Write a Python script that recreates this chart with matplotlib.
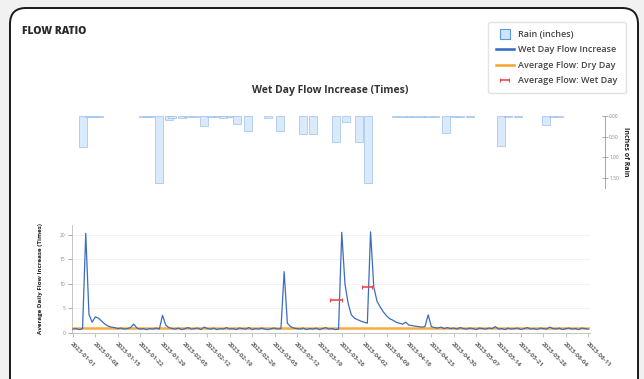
import matplotlib
matplotlib.use("Agg")
import matplotlib.pyplot as plt
from matplotlib.patches import FancyBboxPatch
from matplotlib.lines import Line2D

plt.rcParams['font.family'] = ['Open Sans', 'DejaVu Sans']

# daily flow increase (times), one value per day
flow_increase = [
    0.8, 0.9, 0.7, 0.9, 20.3, 3.8, 2.2, 3.3, 3.0, 2.4,
    1.8, 1.4, 1.2, 1.1, 0.9, 1.0, 0.8, 0.9, 1.1, 1.8,
    1.0, 0.8, 0.9, 0.7, 0.9, 0.8, 1.0, 0.8, 3.6, 1.6,
    1.1, 0.9, 0.8, 1.0, 0.7, 0.9, 1.1, 0.8, 0.9, 1.0,
    0.7, 1.2, 0.9, 0.8, 1.0, 0.7, 0.9, 0.8, 1.1, 0.8,
    0.9, 0.7, 1.0, 0.9, 0.8, 1.1, 0.7, 0.9, 0.8, 1.0,
    0.8, 0.7, 0.9, 1.0, 0.8, 0.9, 12.5, 2.0, 1.3, 1.0,
    0.9, 0.8, 1.0, 0.7, 0.9, 0.8, 1.0, 0.7, 0.9, 1.1,
    0.8, 0.9, 0.7, 0.8, 20.5, 10.0, 6.0, 3.7, 3.0, 2.7,
    2.4, 2.2, 2.0, 20.6, 9.4, 6.5, 5.3, 4.3, 3.5, 2.9,
    2.6, 2.2, 2.0, 1.8, 2.2, 1.6, 1.5, 1.4, 1.3, 1.2,
    1.3, 3.7, 1.3, 1.1, 1.0, 1.2, 0.9, 1.1, 0.9, 1.0,
    0.8, 1.1, 0.9, 0.8, 1.0, 0.9, 0.7, 1.0, 0.9, 0.8,
    1.0, 0.9, 1.3, 0.8, 0.9, 0.7, 1.0, 0.8, 0.9, 1.0,
    0.7, 0.9, 1.1, 0.8, 0.9, 0.7, 1.0, 0.9, 0.8, 1.2,
    0.9, 0.8, 1.0, 0.7, 0.9, 1.0, 0.8, 0.9, 0.7, 1.0,
    0.9, 0.8,
]
days = list(range(len(flow_increase)))

dry_day_avg = 1.0

# average flow on wet days
wet_days = [82.2, 91.9]
wet_vals = [6.7, 9.4]
wet_halfwidth = [1.9, 1.6]

# rain (inches)
rain_days = [3, 5, 6, 7, 8, 22, 23, 24, 27, 30, 31, 34, 36, 38, 41, 43, 45, 47, 49,
             51.4, 54.6, 61, 64.6, 71.8, 75, 82.3, 85.2, 89.4, 92.2,
             101, 103, 105, 107, 109, 111, 113, 116.6, 119, 121, 124,
             133.7, 136, 139, 147.8, 150, 152]
rain_in = [0.76, 0.03, 0.02, 0.03, 0.02, 0.03, 0.02, 0.03, 1.61, 0.10, 0.05, 0.04, 0.03,
           0.03, 0.25, 0.03, 0.02, 0.04, 0.02,
           0.20, 0.37, 0.05, 0.37, 0.44, 0.44, 0.63, 0.15, 0.63, 1.61,
           0.02, 0.03, 0.02, 0.03, 0.02, 0.03, 0.02, 0.41, 0.03, 0.02, 0.03,
           0.73, 0.03, 0.02, 0.22, 0.03, 0.02]

tick_days = list(range(0, 162, 7))
tick_labels = ['2023-01-01', '2023-01-08', '2023-01-15', '2023-01-22', '2023-01-29',
               '2023-02-05', '2023-02-12', '2023-02-19', '2023-02-26', '2023-03-05',
               '2023-03-12', '2023-03-19', '2023-03-26', '2023-04-02', '2023-04-09',
               '2023-04-16', '2023-04-23', '2023-04-30', '2023-05-07', '2023-05-14',
               '2023-05-21', '2023-05-28', '2023-06-04', '2023-06-11']

W, H = 644, 379
fig = plt.figure(figsize=(W / 100, H / 100), dpi=100)
fig.patch.set_facecolor('#f1f1f1')

# card background
card = FancyBboxPatch((0.10, -0.3), 6.28, 3.71 + 0.3, boxstyle="round,pad=0,rounding_size=0.16",
                      transform=fig.dpi_scale_trans, facecolor='white', edgecolor='#1a1a1a',
                      linewidth=1.4, zorder=-5)
fig.patches.append(card)

fig.text(22 / W, 1 - 31 / H, 'FLOW RATIO', fontsize=7.5, fontweight='heavy', color='#2a2a2a',
         va='center', ha='left')
fig.text(330 / W, 1 - 91 / H, 'Wet Day Flow Increase (Times)', fontsize=7.5, fontweight='bold',
         color='#333333', va='center', ha='center')

def px_axes(left, right, top, bottom):
    return fig.add_axes([left / W, 1 - bottom / H, (right - left) / W, (bottom - top) / H])

# rain axis (inverted, on top)
x0 = -0.3
px_per_day = 3.2
ax_r = px_axes(72, 605, 116, 188)
ax_r.set_facecolor('none')
ax_r.bar(rain_days, rain_in, width=2.5, color='#d8eafc', edgecolor='#9cc0ea', linewidth=0.5)
ax_r.set_xlim(x0, x0 + (605 - 72) / px_per_day)
ax_r.set_ylim(1.74, 0)
ax_r.yaxis.tick_right()
ax_r.yaxis.set_label_position('right')
ax_r.set_yticks([0, 0.5, 1.0, 1.5])
ax_r.set_yticklabels(['0.00', '0.50', '1.00', '1.50'])
ax_r.tick_params(axis='y', labelsize=3.5, colors='#888888', length=4, width=0.5, direction='inout', pad=1)
ax_r.set_xticks([])
for s in ['left', 'top', 'bottom']:
    ax_r.spines[s].set_visible(False)
ax_r.spines['right'].set_color('#999999')
ax_r.spines['right'].set_linewidth(0.6)
ax_r.set_ylabel('Inches of Rain', fontsize=5, fontweight='bold', color='#222222', rotation=270,
                labelpad=7)

# main flow axis
ax = px_axes(72, 590, 225, 333)
ax.set_facecolor('none')
ax.grid(axis='y', color='#f0f0f0', linewidth=0.6)
ax.set_axisbelow(True)
ax.axhline(dry_day_avg, color='#f6a42c', linewidth=1.8, alpha=0.9, zorder=3)
ax.plot(days, flow_increase, color='#3b6cc0', linewidth=0.9, zorder=4)
wet = ax.errorbar(wet_days, wet_vals, xerr=wet_halfwidth, fmt='none', ecolor='#ef4b4b', elinewidth=1.2,
                  capsize=1.5, capthick=0.8, zorder=5)
ax.set_xlim(x0, x0 + (590 - 72) / px_per_day)
ax.set_ylim(0, 22)
ax.set_yticks([0, 5, 10, 15, 20])
ax.tick_params(axis='y', labelsize=3.5, colors='#888888', length=3, width=0.5, pad=2)
ax.set_xticks(tick_days)
ax.set_xticklabels(tick_labels, rotation=-45, ha='left', va='top', rotation_mode='anchor',
                   fontsize=4.5, fontweight='bold', color='#666666')
ax.tick_params(axis='x', length=3, width=0.5, colors='#aaaaaa', labelcolor='#666666', pad=3)
for s in ['top', 'right']:
    ax.spines[s].set_visible(False)
for s in ['left', 'bottom']:
    ax.spines[s].set_color('#bbbbbb')
    ax.spines[s].set_linewidth(0.6)
ax.set_ylabel('Average Daily Flow Increase (Times)', fontsize=4.5, fontweight='bold', color='#222222',
              labelpad=12)

# legend
handles = [
    Line2D([], [], linestyle='none', marker='s', markersize=7, markerfacecolor='#cfe4fb',
           markeredgecolor='#5b9ad8', markeredgewidth=0.8),
    Line2D([], [], color='#2e68c0', linewidth=1.8),
    Line2D([], [], color='#f6a42c', linewidth=1.8),
    wet,
]
labels = ['Rain (inches)', 'Wet Day Flow Increase', 'Average Flow: Dry Day', 'Average Flow: Wet Day']
leg = fig.legend(handles, labels, loc='upper right', bbox_to_anchor=(626 / W, 1 - 22 / H),
                 fontsize=6.5, frameon=True, fancybox=True, edgecolor='#dddddd',
                 handlelength=2.0, handletextpad=0.5, labelspacing=0.7, borderpad=0.9,
                 borderaxespad=0)
for t in leg.get_texts():
    t.set_color('#444444')
    t.set_fontweight('semibold')

fig.savefig('out.png', dpi=100, facecolor=fig.get_facecolor())
